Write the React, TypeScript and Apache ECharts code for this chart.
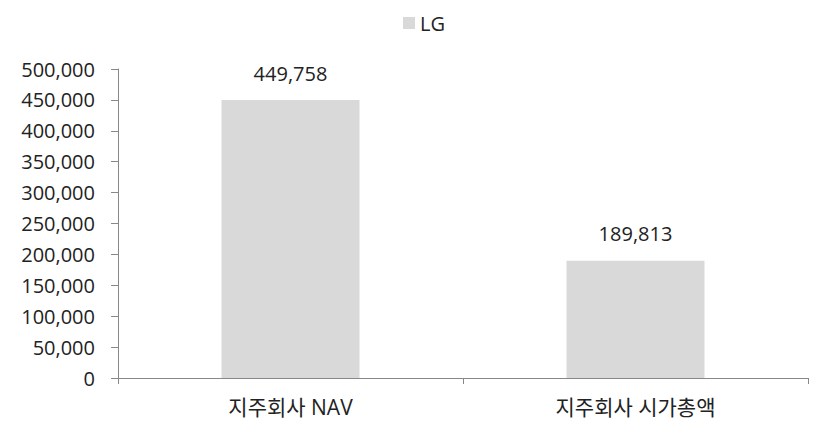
import React, { useEffect, useRef } from "react";
import * as echarts from "echarts";

const categories = ["지주회사 NAV", "지주회사 시가총액"];
const seriesName = "LG";
const values = [449758, 189813];
const yTicks = { min: 0, max: 500000, interval: 50000 };

const FONT = "'Open Sans', 'Noto Sans CJK KR', sans-serif";

export default function App() {
  const ref = useRef<HTMLDivElement>(null);
  useEffect(() => {
    if (!ref.current) return;
    const chart = echarts.init(ref.current, undefined, { renderer: "svg" });
    chart.setOption({
      animation: false,
      backgroundColor: "#ffffff",
      textStyle: { fontFamily: FONT },
      legend: {
        data: [seriesName],
        top: 8,
        left: 398,
        itemWidth: 12,
        itemHeight: 12,
        itemGap: 6,
        icon: "rect",
        textStyle: { fontSize: 20, color: "#222", fontFamily: FONT },
      },
      grid: { left: 118, right: 16, top: 69, bottom: 46, containLabel: false },
      xAxis: {
        type: "category",
        data: categories,
        axisLine: { lineStyle: { color: "#888", width: 1 } },
        axisTick: { show: true, alignWithLabel: false, length: 6, lineStyle: { color: "#888" } },
        axisLabel: { fontSize: 21, lineHeight: 21, color: "#222", margin: 18, fontFamily: FONT },
      },
      yAxis: {
        type: "value",
        min: yTicks.min,
        max: yTicks.max,
        interval: yTicks.interval,
        splitLine: { show: false },
        axisLine: { show: true, lineStyle: { color: "#888", width: 1 } },
        axisTick: { show: true, length: 7, lineStyle: { color: "#888" } },
        axisLabel: {
          fontSize: 20,
          color: "#222",
          margin: 23,
          fontFamily: FONT,
          formatter: (v: number) => v.toLocaleString("en-US"),
        },
      },
      series: [
        {
          name: seriesName,
          type: "bar",
          data: values,
          barWidth: "40%",
          itemStyle: { color: "#d9d9d9" },
          label: {
            show: true,
            position: "top",
            distance: 17,
            fontSize: 20,
            color: "#222",
            fontFamily: FONT,
            formatter: (p: any) => Number(p.value).toLocaleString("en-US"),
          },
        },
      ],
    });
    return () => chart.dispose();
  }, []);
  return <div ref={ref} style={{ width: 824, height: 424, position: "absolute", left: 0, top: 0 }} />;
}
